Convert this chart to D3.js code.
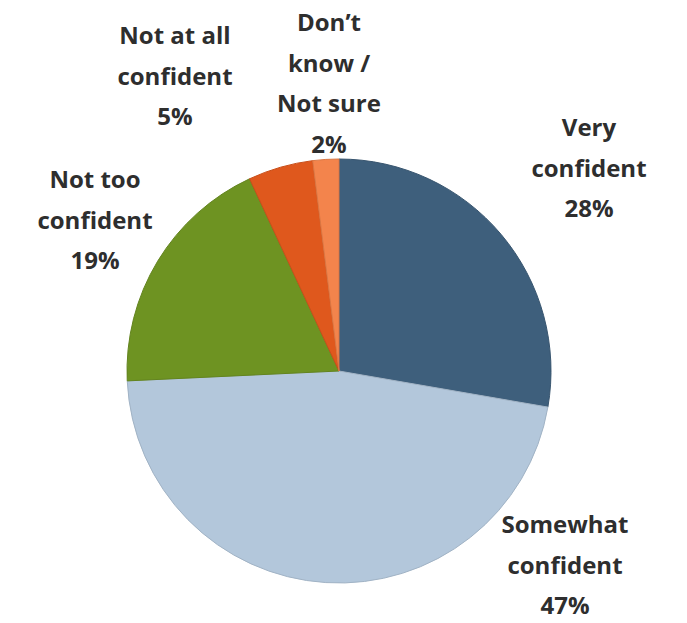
<!DOCTYPE html>
<html>
<head>
<meta charset="utf-8">
<script src="https://cdn.jsdelivr.net/npm/d3@7"></script>
<style>
  html, body { margin: 0; padding: 0; background: #ffffff; }
  svg { display: block; }
</style>
</head>
<body>
<script>
// Survey responses, clockwise from 12 o'clock
const categories = ["Very confident", "Somewhat confident", "Not too confident", "Not at all confident", "Don't know / Not sure"];
const values = [28, 47, 19, 5, 2];
const labelLines = [
  ["Very", "confident", "28%"],
  ["Somewhat", "confident", "47%"],
  ["Not too", "confident", "19%"],
  ["Not at all", "confident", "5%"],
  ["Don\u2019t", "know /", "Not sure", "2%"]
];
const colors = ["#3e5f7c", "#b3c7db", "#6e9322", "#df581d", "#f3844c"];

const width = 687, height = 623;
const cx = 339, cy = 371, radius = 212;

// label anchor points (centre of first line) per slice
const labelPos = [
  [589, 130], [565, 527], [95, 182], [175, 38], [329, 25]
];
const lineHeight = 40.5;

const svg = d3.select("body").append("svg")
  .attr("width", width).attr("height", height);

const pie = d3.pie().sort(null).value(d => d.value);
const arc = d3.arc().innerRadius(0).outerRadius(radius);

const data = categories.map((c, i) => ({ name: c, value: values[i], color: colors[i], lines: labelLines[i], pos: labelPos[i] }));

const g = svg.append("g").attr("transform", `translate(${cx},${cy})`);

g.selectAll("path.slice")
  .data(pie(data))
  .join("path")
  .attr("class", "slice")
  .attr("d", arc)
  .attr("fill", d => d.data.color)
  .attr("stroke", d => d3.color(d.data.color).darker(0.3))
  .attr("stroke-width", 1);

const labels = svg.append("g")
  .attr("font-family", "'Open Sans', sans-serif")
  .attr("font-weight", 700)
  .attr("font-size", 24)
  .attr("fill", "#2e2e2e")
  .attr("text-anchor", "middle");

data.forEach(d => {
  const t = labels.append("text")
    .attr("x", d.pos[0])
    .attr("y", d.pos[1])
    .attr("dominant-baseline", "middle");
  d.lines.forEach((line, j) => {
    t.append("tspan")
      .attr("x", d.pos[0])
      .attr("y", d.pos[1] + j * lineHeight)
      .attr("dominant-baseline", "middle")
      .text(line);
  });
});
</script>
</body>
</html>
